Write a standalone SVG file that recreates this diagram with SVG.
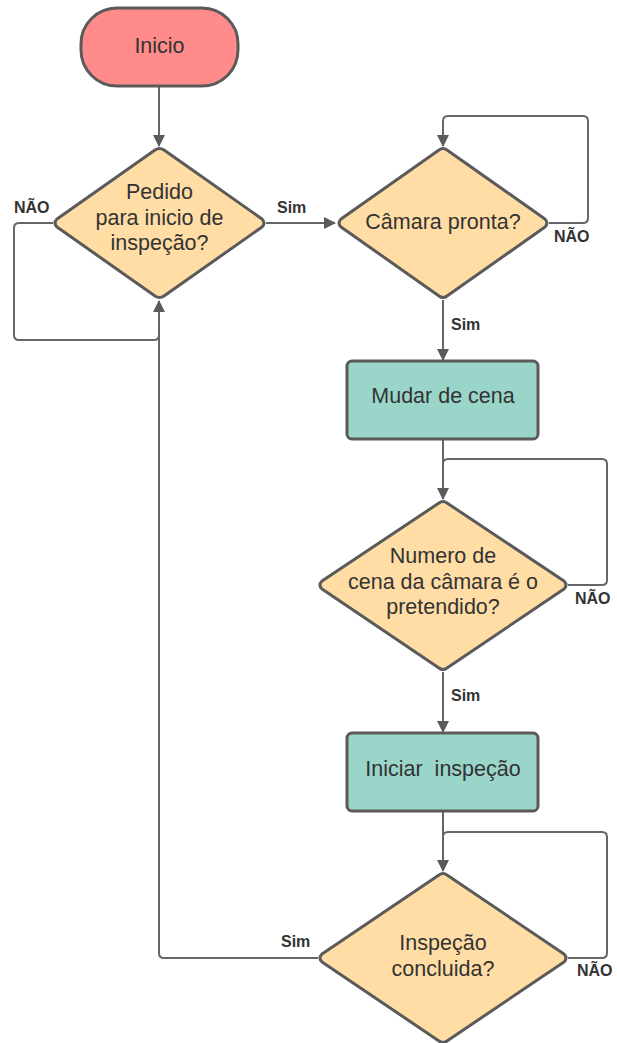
<svg xmlns="http://www.w3.org/2000/svg" width="617" height="1043" viewBox="0 0 617 1043">
  <defs>
    <style>
      .shape { stroke: #5a5a5a; stroke-width: 3; stroke-linejoin: round; }
      .start { fill: #ff8b8b; }
      .decision { fill: #ffdda5; }
      .process { fill: #9ad5ca; }
      .txt { font-family: "Liberation Sans", Arial, sans-serif; font-size: 21.5px; fill: #333333; text-anchor: middle; }
      .lbl { font-family: "Liberation Sans", Arial, sans-serif; font-size: 16px; font-weight: bold; fill: #333333; }
      .edge { fill: none; stroke: #666666; stroke-width: 2; stroke-linejoin: round; }
    </style>
    <marker id="arrow" viewBox="0 0 12 12" refX="11" refY="6" markerWidth="12" markerHeight="12" markerUnits="userSpaceOnUse" orient="auto">
      <path d="M0,0 L12,6 L0,12 Z" fill="#5a5a5a"/>
    </marker>
  </defs>

  <!-- connectors -->
  <g id="connectors">
    <path class="edge" d="M159,87 V146" marker-end="url(#arrow)"/>
    <path class="edge" d="M53,223 H19 Q14,223 14,228 V335 Q14,340 19,340 H154 Q159,340 159,335"/>
    <path class="edge" d="M266,223 H335" marker-end="url(#arrow)"/>
    <path class="edge" d="M549,223 H583 Q588,223 588,218 V121 Q588,116 583,116 H448 Q443,116 443,121 V146" marker-end="url(#arrow)"/>
    <path class="edge" d="M443,300 V360" marker-end="url(#arrow)"/>
    <path class="edge" d="M443,439 V499" marker-end="url(#arrow)"/>
    <path class="edge" d="M568,585 H602 Q607,585 607,580 V464 Q607,459 602,459 H448 Q443,459 443,464"/>
    <path class="edge" d="M443,672 V732" marker-end="url(#arrow)"/>
    <path class="edge" d="M443,811 V871" marker-end="url(#arrow)"/>
    <path class="edge" d="M568,958 H602 Q607,958 607,953 V837 Q607,832 602,832 H448 Q443,832 443,837"/>
    <path class="edge" d="M318,958 H164 Q159,958 159,953 V301" marker-end="url(#arrow)"/>
    <text class="lbl" x="14" y="213">NÃO</text>
    <text class="lbl" x="277" y="213">Sim</text>
    <text class="lbl" x="554" y="242">NÃO</text>
    <text class="lbl" x="451" y="330">Sim</text>
    <text class="lbl" x="575" y="604">NÃO</text>
    <text class="lbl" x="451" y="701">Sim</text>
    <text class="lbl" x="281" y="947">Sim</text>
    <text class="lbl" x="577" y="976">NÃO</text>
  </g>

  <!-- start -->
  <g id="inicio">
    <rect class="shape start" x="81" y="8" width="157" height="78" rx="36" ry="36"/>
    <text class="txt" x="159.5" y="53">Inicio</text>
  </g>

  <!-- decision: request -->
  <g id="pedido">
    <path class="shape decision" d="M155,150 Q159.5,147 164,150 L262,219 Q266,223 262,227 L164,296 Q159.5,299 155,296 L57,227 Q53,223 57,219 Z"/>
    <text class="txt" x="159.5" y="199">Pedido</text>
    <text class="txt" x="159.5" y="225">para inicio de</text>
    <text class="txt" x="159.5" y="250">inspeção?</text>
  </g>

  <!-- decision: camera ready -->
  <g id="camara">
    <path class="shape decision" d="M439,150 Q443,147 447,150 L545,219 Q549,223 545,227 L447,296 Q443,299 439,296 L341,227 Q337,223 341,219 Z"/>
    <text class="txt" x="443" y="229">Câmara pronta?</text>
  </g>

  <!-- process: change scene -->
  <g id="mudar">
    <rect class="shape process" x="347" y="361" width="191" height="78" rx="5" ry="5"/>
    <text class="txt" x="443" y="403">Mudar de cena</text>
  </g>

  <!-- decision: scene number -->
  <g id="numero">
    <path class="shape decision" d="M439,503 Q443,500 447,503 L564,581 Q568,585 564,589 L447,668 Q443,671 439,668 L322,589 Q318,585 322,581 Z"/>
    <text class="txt" x="443" y="563">Numero de</text>
    <text class="txt" x="443" y="589">cena da câmara é o</text>
    <text class="txt" x="443" y="614">pretendido?</text>
  </g>

  <!-- process: start inspection -->
  <g id="iniciar">
    <rect class="shape process" x="347" y="733" width="191" height="78" rx="5" ry="5"/>
    <text class="txt" x="443" y="776" xml:space="preserve">Iniciar  inspeção</text>
  </g>

  <!-- decision: inspection done -->
  <g id="concluida">
    <path class="shape decision" d="M439,875 Q443,872 447,875 L564,954 Q568,958 564,962 L447,1041 Q443,1044 439,1041 L322,962 Q318,958 322,954 Z"/>
    <text class="txt" x="443" y="950">Inspeção</text>
    <text class="txt" x="443" y="976">concluida?</text>
  </g>
</svg>
